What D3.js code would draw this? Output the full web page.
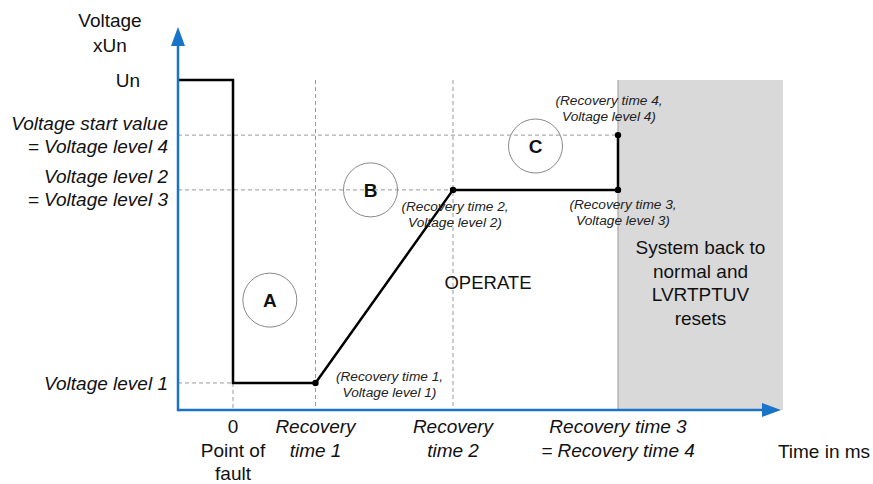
<!DOCTYPE html>
<html><head><meta charset="utf-8">
<script src="https://cdn.jsdelivr.net/npm/d3@7"></script>
<style>body{margin:0;background:#fff}svg{display:block;font-family:"Liberation Sans",Arial,sans-serif}</style>
</head><body><svg id="c" width="873" height="484"></svg>
<script>
// ---- data ----
const timeNames = ["fault", "rt1", "rt2", "rt3"];
const timeValues = [0, 1.5, 4, 7];            // relative time units
const timeLabels = [["0", "Point of", "fault"], ["Recovery", "time 1"], ["Recovery", "time 2"], ["Recovery time 3", "= Recovery time 4"]];
const timeLabelItalic = [false, true, true, true];
const levelNames = ["Un", "vl4", "vl2", "vl1"];
const levelValues = [1.0, 0.833, 0.667, 0.082];
const levelLabels = [["Un"], ["Voltage start value", "= Voltage level 4"], ["Voltage level 2", "= Voltage level 3"], ["Voltage level 1"]];
const levelLabelItalic = [false, true, true, true];
// voltage curve: [time, voltage]
const curveT = [-1, 0, 0, 1.5, 4, 7, 7];
const curveV = [1.0, 1.0, 0.082, 0.082, 0.667, 0.667, 0.833];
const pointT = [1.5, 4, 7, 7];
const pointV = [0.082, 0.667, 0.667, 0.833];
const pointLabels = [["(Recovery time 1,", "Voltage level 1)"], ["(Recovery time 2,", "Voltage level 2)"], ["(Recovery time 3,", "Voltage level 3)"], ["(Recovery time 4,", "Voltage level 4)"]];
const zoneNames = ["A", "B", "C"];
const zoneT = [0.67, 2.5, 5.5];
const zoneV = [0.333, 0.667, 0.8];

const svg = d3.select("#c");
const x = d3.scaleLinear().domain([-1, 10]).range([178, 783]);
const y = d3.scaleLinear().domain([0, 1]).range([410, 80]);
const tMin = -1, tMax = 10, axisBlue = "#1874c8";

// gray reset zone
svg.append("rect").attr("x", x(7)).attr("y", y(1)).attr("width", x(tMax) - x(7)).attr("height", y(0) - y(1)).attr("fill", "#d9d9d9");
svg.append("line").attr("x1", x(7)).attr("x2", x(7)).attr("y1", y(1)).attr("y2", y(0)).attr("stroke", "#999").attr("stroke-width", 1);

// dashed guides
const dash = {stroke: "#999", "stroke-dasharray": "4,3", "stroke-width": 1};
function dl(x1, y1, x2, y2) {
  const l = svg.append("line").attr("x1", x1).attr("y1", y1).attr("x2", x2).attr("y2", y2);
  Object.entries(dash).forEach(([k, v]) => l.attr(k, v));
}
dl(x(tMin), y(levelValues[1]), x(timeValues[3]), y(levelValues[1]));
dl(x(tMin), y(levelValues[2]), x(timeValues[2]), y(levelValues[2]));
dl(x(tMin), y(levelValues[3]), x(timeValues[0]), y(levelValues[3]));
dl(x(timeValues[0]), y(levelValues[3]), x(timeValues[0]), y(0));
dl(x(timeValues[1]), y(1), x(timeValues[1]), y(0));
dl(x(timeValues[2]), y(1), x(timeValues[2]), y(0));

// zone circles
zoneNames.forEach((n, i) => {
  svg.append("circle").attr("cx", x(zoneT[i])).attr("cy", y(zoneV[i])).attr("r", 27).attr("fill", "none").attr("stroke", "#888").attr("stroke-width", 1);
  svg.append("text").attr("x", x(zoneT[i])).attr("y", y(zoneV[i]) + 7).attr("text-anchor", "middle").attr("font-size", 19).attr("font-weight", "bold").attr("fill", "#111").text(n);
});

// curve
const line = d3.line().x((d, i) => x(curveT[i])).y((d, i) => y(curveV[i]));
svg.append("path").attr("d", line(curveT)).attr("fill", "none").attr("stroke", "#000").attr("stroke-width", 2.5).attr("stroke-linejoin", "miter");
pointT.forEach((t, i) => svg.append("circle").attr("cx", x(t)).attr("cy", y(pointV[i])).attr("r", 3.2).attr("fill", "#000"));

// axes
svg.append("line").attr("x1", x(tMin)).attr("y1", y(0)).attr("x2", 764).attr("y2", y(0)).attr("stroke", axisBlue).attr("stroke-width", 2.5);
svg.append("path").attr("d", `M762,${y(0) - 7}L781,${y(0)}L762,${y(0) + 7}Z`).attr("fill", axisBlue);
svg.append("line").attr("x1", x(tMin)).attr("y1", y(0) + 1.2).attr("x2", x(tMin)).attr("y2", 44).attr("stroke", axisBlue).attr("stroke-width", 2.5);
svg.append("path").attr("d", `M${x(tMin) - 7},46L${x(tMin)},27L${x(tMin) + 7},46Z`).attr("fill", axisBlue);

// text helper
function multi(xp, yp, lines, opt) {
  const t = svg.append("text").attr("x", xp).attr("y", yp).attr("text-anchor", opt.anchor || "middle")
    .attr("font-size", opt.size || 19).attr("fill", opt.fill || "#111");
  if (opt.italic) t.attr("font-style", "italic");
  lines.forEach((s, i) => t.append("tspan").attr("x", xp).attr("dy", i === 0 ? 0 : opt.lh || 23).text(s));
}

// axis titles
multi(110, 27, ["Voltage", "xUn"], {lh: 25});
multi(824, 458, ["Time in ms"], {});

// level labels
multi(140, 87, levelLabels[0], {anchor: "end", italic: levelLabelItalic[0]});
multi(168, 130, levelLabels[1], {anchor: "end", italic: true, lh: 23});
multi(168, 183, levelLabels[2], {anchor: "end", italic: true, lh: 23});
multi(168, 390, levelLabels[3], {anchor: "end", italic: true});

// time labels
timeValues.forEach((t, i) => {
  multi(x(t), 433, timeLabels[i], {italic: timeLabelItalic[i], lh: 23.5});
});

// point annotations
const annDx = [74, 2, 5, -9], annDy = [-2, 21, 19, -30];
pointT.forEach((t, i) => {
  multi(x(t) + annDx[i], y(pointV[i]) + annDy[i], pointLabels[i], {italic: true, size: 13.7, lh: 16, fill: "#222"});
});

// region texts
multi(488, 289, ["OPERATE"], {size: 18.5});
multi(x(8.5), 254, ["System back to", "normal and", "LVRTPTUV", "resets"], {lh: 23.7});
</script></body></html>
